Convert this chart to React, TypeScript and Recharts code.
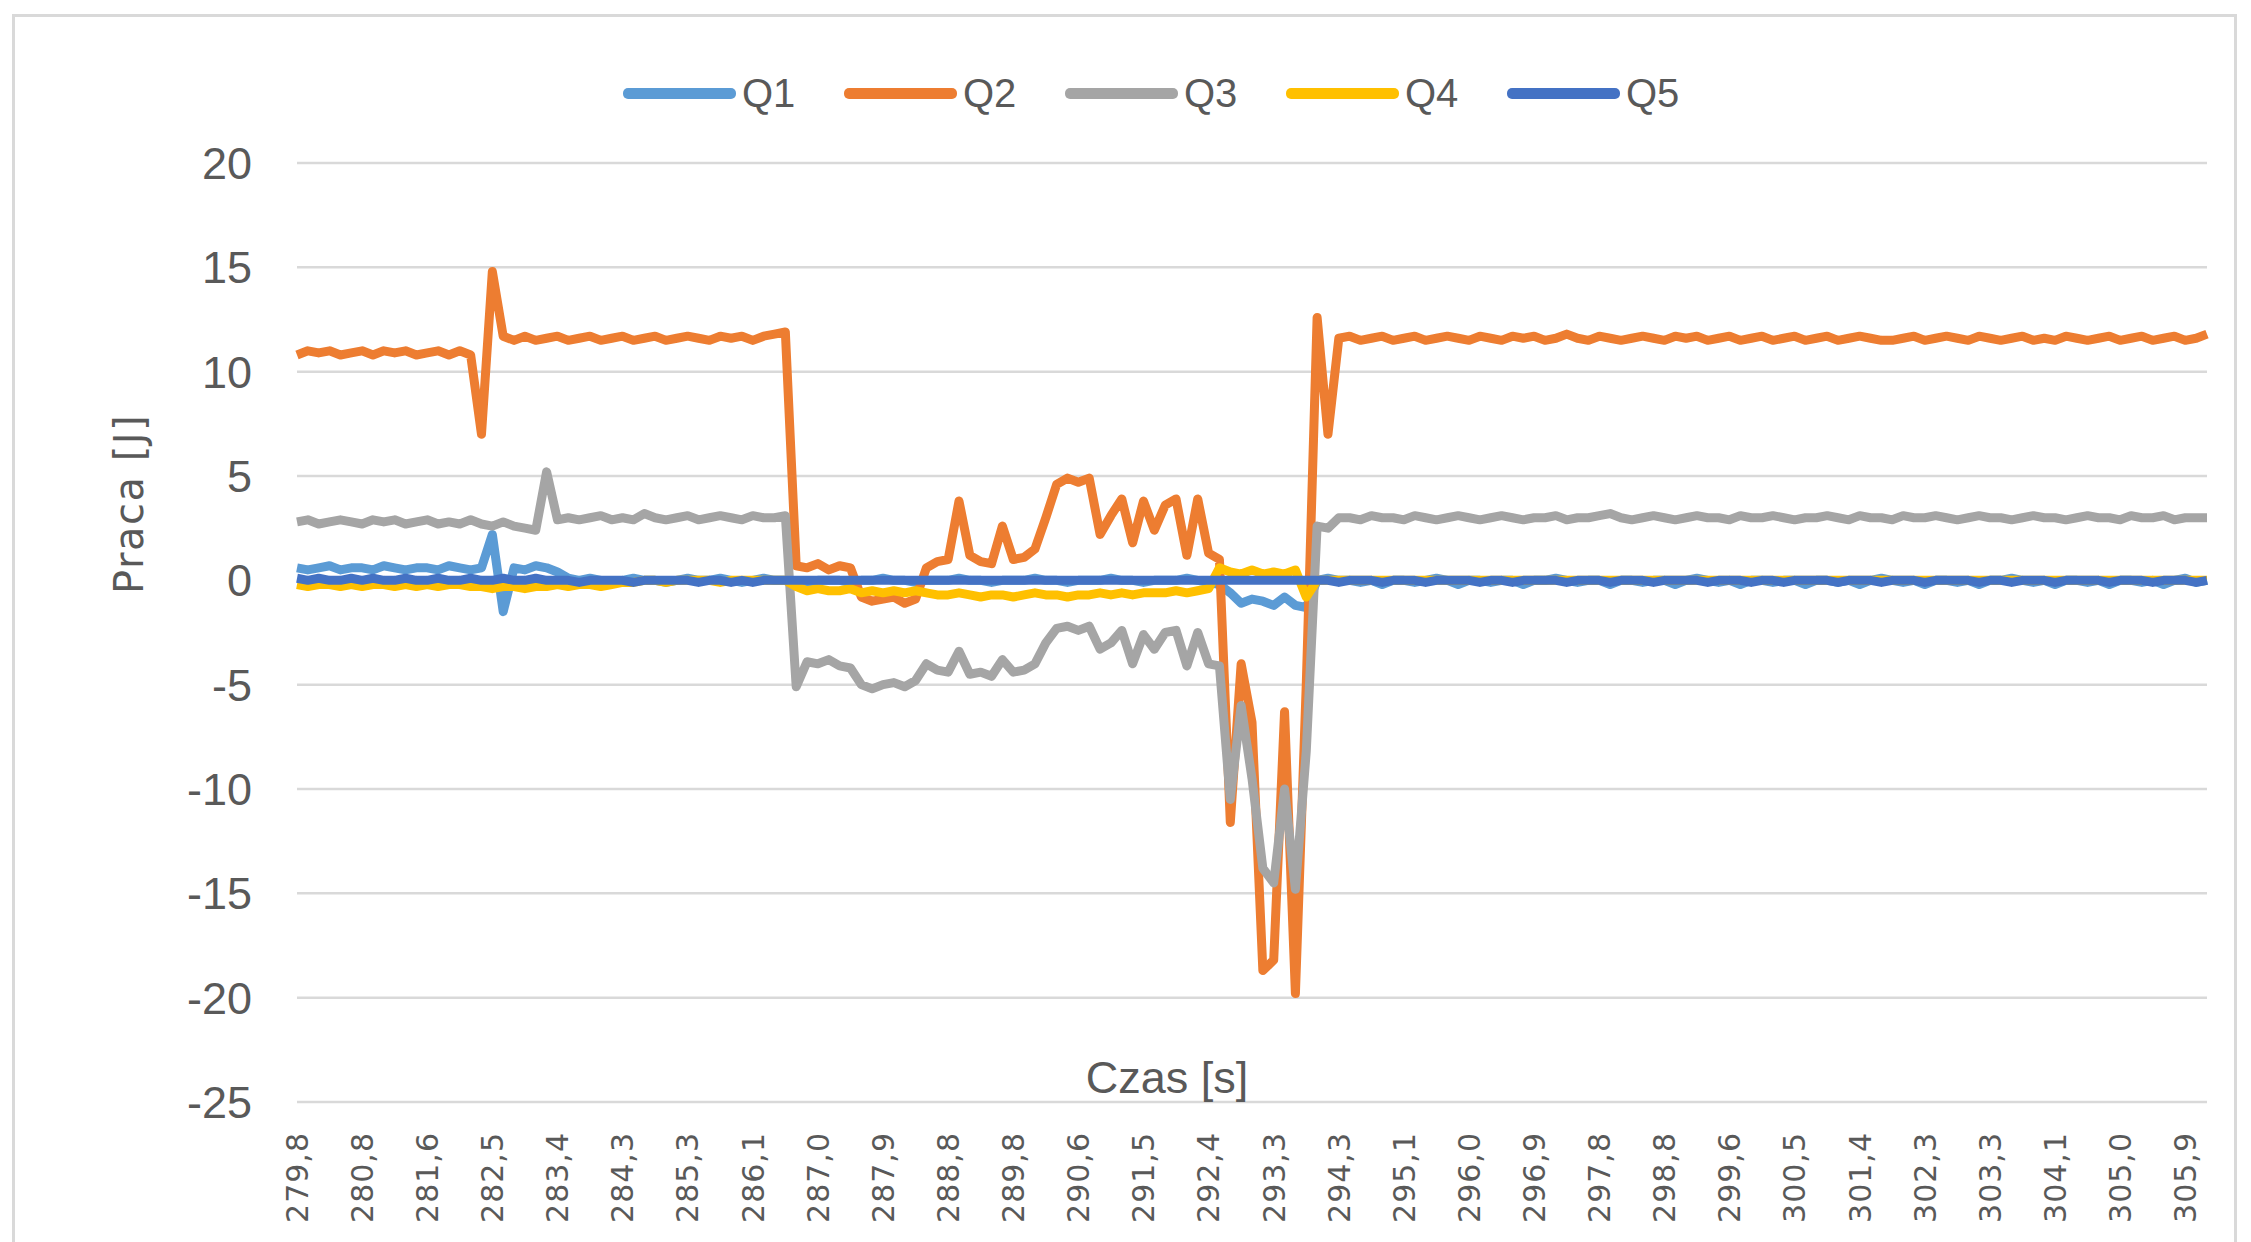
import { LineChart, Line, XAxis, YAxis, CartesianGrid, Label } from 'recharts'

// one x tick label every 6 samples
const SAMPLES_PER_LABEL = 6

const timeLabels = [
  '279,8', '280,8', '281,6', '282,5', '283,4', '284,3', '285,3', '286,1', '287,0', '287,9',
  '288,8', '289,8', '290,6', '291,5', '292,4', '293,3', '294,3', '295,1', '296,0', '296,9',
  '297,8', '298,8', '299,6', '300,5', '301,4', '302,3', '303,3', '304,1', '305,0', '305,9',
]

const yTicks = [-25, -20, -15, -10, -5, 0, 5, 10, 15, 20]

const q1 = [
  0.6, 0.5, 0.6, 0.7, 0.5, 0.6, 0.6, 0.5, 0.7, 0.6,
  0.5, 0.6, 0.6, 0.5, 0.7, 0.6, 0.5, 0.6, 2.2, -1.5,
  0.6, 0.5, 0.7, 0.6, 0.4, 0.1, 0.0, 0.1, 0.0, -0.1,
  0.0, 0.1, 0.0, 0.0, -0.1, 0.0, 0.1, 0.0, 0.0, 0.1,
  0.0, -0.1, 0.0, 0.1, 0.0, 0.0, -0.2, -0.1, 0.0, 0.0,
  0.0, -0.1, 0.0, 0.0, 0.1, 0.0, 0.0, -0.1, 0.0, 0.0,
  0.0, 0.1, 0.0, 0.0, -0.1, 0.0, 0.0, 0.0, 0.1, 0.0,
  0.0, -0.1, 0.0, 0.0, 0.0, 0.1, 0.0, 0.0, -0.1, 0.0,
  0.0, 0.0, 0.1, 0.0, -0.1, -0.2, -0.6, -1.1, -0.9, -1.0,
  -1.2, -0.8, -1.2, -1.3, 0.0, 0.1, 0.0, 0.0, -0.1, 0.0,
  -0.2, 0.0, 0.0, -0.1, 0.0, 0.1, 0.0, -0.2, 0.0, 0.0,
  -0.1, 0.0, 0.0, -0.2, 0.0, 0.0, 0.1, 0.0, -0.1, 0.0,
  0.0, -0.2, 0.0, 0.0, -0.1, 0.0, 0.0, -0.2, 0.0, 0.1,
  0.0, -0.1, 0.0, -0.2, 0.0, 0.0, -0.1, 0.0, 0.0, -0.2,
  0.0, 0.0, -0.1, 0.0, -0.2, 0.0, 0.1, 0.0, -0.1, 0.0,
  -0.2, 0.0, 0.0, -0.1, 0.0, -0.2, 0.0, 0.0, 0.1, 0.0,
  -0.1, 0.0, -0.2, 0.0, 0.0, -0.1, 0.0, -0.2, 0.0, 0.0,
  -0.1, 0.0, -0.2, 0.0, 0.1, -0.1, 0.0,
]

const q2 = [
  10.8, 11.0, 10.9, 11.0, 10.8, 10.9, 11.0, 10.8, 11.0, 10.9,
  11.0, 10.8, 10.9, 11.0, 10.8, 11.0, 10.8, 7.0, 14.8, 11.7,
  11.5, 11.7, 11.5, 11.6, 11.7, 11.5, 11.6, 11.7, 11.5, 11.6,
  11.7, 11.5, 11.6, 11.7, 11.5, 11.6, 11.7, 11.6, 11.5, 11.7,
  11.6, 11.7, 11.5, 11.7, 11.8, 11.9, 0.7, 0.6, 0.8, 0.5,
  0.7, 0.6, -0.8, -1.0, -0.9, -0.8, -1.1, -0.9, 0.6, 0.9,
  1.0, 3.8, 1.2, 0.9, 0.8, 2.6, 1.0, 1.1, 1.5, 3.0,
  4.6, 4.9, 4.7, 4.9, 2.2, 3.1, 3.9, 1.8, 3.8, 2.4,
  3.6, 3.9, 1.2, 3.9, 1.3, 1.0, -11.6, -4.0, -6.8, -18.7,
  -18.2, -6.3, -19.8, -5.0, 12.6, 7.0, 11.6, 11.7, 11.5, 11.6,
  11.7, 11.5, 11.6, 11.7, 11.5, 11.6, 11.7, 11.6, 11.5, 11.7,
  11.6, 11.5, 11.7, 11.6, 11.7, 11.5, 11.6, 11.8, 11.6, 11.5,
  11.7, 11.6, 11.5, 11.6, 11.7, 11.6, 11.5, 11.7, 11.6, 11.7,
  11.5, 11.6, 11.7, 11.5, 11.6, 11.7, 11.5, 11.6, 11.7, 11.5,
  11.6, 11.7, 11.5, 11.6, 11.7, 11.6, 11.5, 11.5, 11.6, 11.7,
  11.5, 11.6, 11.7, 11.6, 11.5, 11.7, 11.6, 11.5, 11.6, 11.7,
  11.5, 11.6, 11.5, 11.7, 11.6, 11.5, 11.6, 11.7, 11.5, 11.6,
  11.7, 11.5, 11.6, 11.7, 11.5, 11.6, 11.8,
]

const q3 = [
  2.8, 2.9, 2.7, 2.8, 2.9, 2.8, 2.7, 2.9, 2.8, 2.9,
  2.7, 2.8, 2.9, 2.7, 2.8, 2.7, 2.9, 2.7, 2.6, 2.8,
  2.6, 2.5, 2.4, 5.2, 2.9, 3.0, 2.9, 3.0, 3.1, 2.9,
  3.0, 2.9, 3.2, 3.0, 2.9, 3.0, 3.1, 2.9, 3.0, 3.1,
  3.0, 2.9, 3.1, 3.0, 3.0, 3.1, -5.1, -3.9, -4.0, -3.8,
  -4.1, -4.2, -5.0, -5.2, -5.0, -4.9, -5.1, -4.8, -4.0, -4.3,
  -4.4, -3.4, -4.5, -4.4, -4.6, -3.8, -4.4, -4.3, -4.0, -3.0,
  -2.3, -2.2, -2.4, -2.2, -3.3, -3.0, -2.4, -4.0, -2.6, -3.3,
  -2.5, -2.4, -4.1, -2.5, -4.0, -4.1, -10.5, -6.0, -9.5, -13.8,
  -14.5, -10.0, -14.8, -8.2, 2.6, 2.5, 3.0, 3.0, 2.9, 3.1,
  3.0, 3.0, 2.9, 3.1, 3.0, 2.9, 3.0, 3.1, 3.0, 2.9,
  3.0, 3.1, 3.0, 2.9, 3.0, 3.0, 3.1, 2.9, 3.0, 3.0,
  3.1, 3.2, 3.0, 2.9, 3.0, 3.1, 3.0, 2.9, 3.0, 3.1,
  3.0, 3.0, 2.9, 3.1, 3.0, 3.0, 3.1, 3.0, 2.9, 3.0,
  3.0, 3.1, 3.0, 2.9, 3.1, 3.0, 3.0, 2.9, 3.1, 3.0,
  3.0, 3.1, 3.0, 2.9, 3.0, 3.1, 3.0, 3.0, 2.9, 3.0,
  3.1, 3.0, 3.0, 2.9, 3.0, 3.1, 3.0, 3.0, 2.9, 3.1,
  3.0, 3.0, 3.1, 2.9, 3.0, 3.0, 3.0,
]

const q4 = [
  -0.2, -0.3, -0.2, -0.2, -0.3, -0.2, -0.3, -0.2, -0.2, -0.3,
  -0.2, -0.3, -0.2, -0.3, -0.2, -0.2, -0.3, -0.3, -0.4, -0.3,
  -0.3, -0.4, -0.3, -0.3, -0.2, -0.3, -0.2, -0.2, -0.3, -0.2,
  -0.1, -0.1, 0.0, 0.0, -0.1, 0.0, 0.0, 0.0, 0.0, -0.1,
  0.0, 0.0, 0.0, 0.0, 0.0, 0.0, -0.3, -0.5, -0.4, -0.5,
  -0.5, -0.4, -0.6, -0.5, -0.6, -0.5, -0.6, -0.5, -0.6, -0.7,
  -0.7, -0.6, -0.7, -0.8, -0.7, -0.7, -0.8, -0.7, -0.6, -0.7,
  -0.7, -0.8, -0.7, -0.7, -0.6, -0.7, -0.6, -0.7, -0.6, -0.6,
  -0.6, -0.5, -0.6, -0.5, -0.4, 0.6, 0.4, 0.3, 0.5, 0.3,
  0.4, 0.3, 0.5, -0.8, 0.0, 0.0, 0.0, 0.0, 0.0, 0.0,
  0.0, 0.0, 0.0, 0.0, 0.0, 0.0, 0.0, 0.0, 0.0, 0.0,
  0.0, 0.0, 0.0, 0.0, 0.0, 0.0, 0.0, 0.0, 0.0, 0.0,
  0.0, 0.0, 0.0, 0.0, 0.0, 0.0, 0.0, 0.0, 0.0, 0.0,
  0.0, 0.0, 0.0, 0.0, 0.0, 0.0, 0.0, 0.0, 0.0, 0.0,
  0.0, 0.0, 0.0, 0.0, 0.0, 0.0, 0.0, 0.0, 0.0, 0.0,
  0.0, 0.0, 0.0, 0.0, 0.0, 0.0, 0.0, 0.0, 0.0, 0.0,
  0.0, 0.0, 0.0, 0.0, 0.0, 0.0, 0.0, 0.0, 0.0, 0.0,
  0.0, 0.0, 0.0, 0.0, 0.0, 0.0, 0.0,
]

const q5 = [
  0.1, 0.0, 0.1, 0.0, 0.0, 0.1, 0.0, 0.1, 0.0, 0.0,
  0.1, 0.0, 0.0, 0.1, 0.0, 0.0, 0.1, 0.0, 0.0, 0.1,
  0.0, 0.0, 0.1, 0.0, 0.0, 0.0, -0.1, 0.0, 0.0, 0.0,
  0.0, -0.1, 0.0, 0.0, 0.0, 0.0, 0.0, -0.1, 0.0, 0.0,
  -0.1, 0.0, -0.1, 0.0, 0.0, 0.0, 0.0, 0.0, 0.0, 0.0,
  0.0, 0.0, 0.0, 0.0, 0.0, 0.0, 0.0, 0.0, 0.0, 0.0,
  0.0, 0.0, 0.0, 0.0, 0.0, 0.0, 0.0, 0.0, 0.0, 0.0,
  0.0, 0.0, 0.0, 0.0, 0.0, 0.0, 0.0, 0.0, 0.0, 0.0,
  0.0, 0.0, 0.0, 0.0, 0.0, 0.0, 0.0, 0.0, 0.0, 0.0,
  0.0, 0.0, 0.0, 0.0, 0.0, 0.0, -0.1, 0.0, 0.0, 0.0,
  -0.1, 0.0, 0.0, 0.0, -0.1, 0.0, 0.0, 0.0, 0.0, -0.1,
  0.0, 0.0, -0.1, 0.0, 0.0, 0.0, 0.0, -0.1, 0.0, 0.0,
  0.0, -0.1, 0.0, 0.0, 0.0, -0.1, 0.0, 0.0, 0.0, 0.0,
  -0.1, 0.0, 0.0, 0.0, -0.1, 0.0, 0.0, -0.1, 0.0, 0.0,
  0.0, 0.0, -0.1, 0.0, 0.0, 0.0, -0.1, 0.0, 0.0, 0.0,
  -0.1, 0.0, 0.0, 0.0, 0.0, -0.1, 0.0, 0.0, -0.1, 0.0,
  0.0, 0.0, -0.1, 0.0, 0.0, 0.0, 0.0, -0.1, 0.0, 0.0,
  0.0, -0.1, 0.0, 0.0, 0.0, -0.1, 0.0,
]

const series = [
  { key: 'Q1', values: q1, color: '#5B9BD5' },
  { key: 'Q2', values: q2, color: '#ED7D31' },
  { key: 'Q3', values: q3, color: '#A5A5A5' },
  { key: 'Q4', values: q4, color: '#FFC000' },
  { key: 'Q5', values: q5, color: '#4472C4' },
]

const rows = q1.map((_, i) => {
  const row: Record<string, number> = { i }
  series.forEach((s) => { row[s.key] = s.values[i] })
  return row
})

const lastIndex = rows.length - 1
const xTicks = timeLabels.map((_, k) => k * SAMPLES_PER_LABEL)

const TEXT = '#595959'

function TimeTick({ x, y, payload }: any) {
  return (
    <text
      x={x}
      y={y}
      transform={`rotate(-90, ${x}, ${y})`}
      textAnchor="end"
      dy="0.36em"
      fill={TEXT}
      fontSize={30}
      fontFamily="'DejaVu Sans', sans-serif"
      letterSpacing={1}
    >
      {timeLabels[Math.round(payload.value / SAMPLES_PER_LABEL)]}
    </text>
  )
}

const renderXTitle = (props: any) => {
  const { x, y, width } = props.viewBox
  return (
    <text x={x + width * 0.4555} y={y - 9} textAnchor="middle" fill={TEXT} fontSize={45} fontFamily="'Liberation Sans', Arial, sans-serif">
      Czas [s]
    </text>
  )
}

const renderYTitle = (props: any) => {
  const { x, y, width, height } = props.viewBox
  const cx = x + width * 0.434
  const cy = y + height * 0.363
  return (
    <text
      x={cx}
      y={cy}
      transform={`rotate(-90, ${cx}, ${cy})`}
      textAnchor="middle"
      dominantBaseline="central"
      fill={TEXT}
      fontSize={40}
      letterSpacing={1.5}
      fontFamily="'DejaVu Sans', sans-serif"
    >
      Praca [J]
    </text>
  )
}

export default function App() {
  return (
    <div style={{ position: 'relative', width: 2251, height: 1242, overflow: 'hidden', background: '#fff' }}>
      <style>{'body{margin:0}'}</style>
      <div
        style={{
          position: 'absolute', left: 12, top: 14, width: 2225, height: 1300,
          border: '3px solid #d9d9d9', boxSizing: 'border-box',
        }}
      />
      <div style={{ position: 'absolute', left: 623, top: 70, display: 'flex', alignItems: 'center' }}>
        {series.map((s) => (
          <div key={s.key} style={{ display: 'flex', alignItems: 'center', width: 221 }}>
            <div style={{ width: 113, height: 11, background: s.color, borderRadius: 5 }} />
            <span style={{ marginLeft: 6, fontSize: 40, color: TEXT, fontFamily: "'Liberation Sans Narrow', 'Liberation Sans', Arial, sans-serif", lineHeight: '47px' }}>
              {s.key}
            </span>
          </div>
        ))}
      </div>
      <div style={{ position: 'absolute', left: 0, top: 0 }}>
        <LineChart width={2251} height={1242} data={rows} margin={{ top: 163, right: 44, bottom: 0, left: 0 }}>
          <CartesianGrid vertical={false} stroke="#d9d9d9" strokeWidth={2.5} />
          <XAxis
            dataKey="i"
            type="number"
            domain={[0, lastIndex]}
            ticks={xTicks}
            interval={0}
            height={140}
            axisLine={false}
            tickLine={false}
            tickSize={0}
            tickMargin={30}
            tick={<TimeTick />}
          >
            <Label content={renderXTitle} />
          </XAxis>
          <YAxis
            domain={[-25, 20]}
            ticks={yTicks}
            width={297}
            axisLine={false}
            tickLine={false}
            tickSize={0}
            tickMargin={45}
            tick={{ fill: TEXT, fontSize: 45, fontFamily: "'Liberation Sans Narrow', 'Liberation Sans', Arial, sans-serif" }}
          >
            <Label content={renderYTitle} />
          </YAxis>
          {series.map((s) => (
            <Line
              key={s.key}
              dataKey={s.key}
              stroke={s.color}
              strokeWidth={9}
              dot={false}
              type="linear"
              strokeLinejoin="round"
              isAnimationActive={false}
            />
          ))}
        </LineChart>
      </div>
    </div>
  )
}
